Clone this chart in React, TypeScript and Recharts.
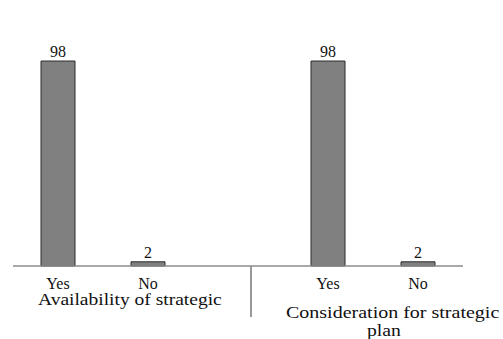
import React from 'react';
import {
  BarChart,
  Bar,
  XAxis,
  YAxis,
  LabelList,
  Customized,
} from 'recharts';

// answer categories along the axis; the empty slot keeps the two groups apart
const answers = ['Yes', 'No', '', 'Yes', 'No'];
const percentages = [98, 2, null, 98, 2];
const groups = ['Availability of strategic', 'Consideration for strategic', 'plan'];
const yDomain = [0, 120];

const data = answers.map((answer, i) => ({ answer, value: percentages[i] }));

const serifStyle = { fontFamily: 'Liberation Serif', fontSize: 16, fill: '#111' };

// category names under the axis
const AnswerTick = ({ x, y, payload }: any) => (
  <text x={x} y={y} dy={9} textAnchor="middle" style={serifStyle}>
    {payload.value}
  </text>
);

// value printed just above each bar
const ValueLabel = ({ x, y, width, value }: any) =>
  value == null ? null : (
    <text x={x + width / 2} y={y - 4} textAnchor="middle" style={serifStyle}>
      {value}
    </text>
  );

// group captions under the category names (stretched a little wider), and the divider
const GroupCaptions = () => (
  <g>
    <line x1={251} y1={266} x2={251} y2={317} stroke="#333" strokeWidth={1} />
    <text transform="translate(38 305) scale(1.22 1)" style={serifStyle}>
      {groups[0]}
    </text>
    <text transform="translate(286 318) scale(1.25 1)" style={serifStyle}>
      {groups[1]}
    </text>
    <text transform="translate(367 336) scale(1.23 1)" style={serifStyle}>
      {groups[2]}
    </text>
  </g>
);

export default function App() {
  return (
    <div style={{ position: 'absolute', left: 0, top: 0, background: '#fff' }}>
      <BarChart
        width={503}
        height={339}
        data={data}
        margin={{ top: 15, right: 40, bottom: 0, left: 13 }}
        barSize={34}
      >
        <XAxis
          dataKey="answer"
          height={73}
          axisLine={{ stroke: '#8c8c8c', strokeWidth: 1.5 }}
          tickLine={false}
          tickMargin={8}
          interval={0}
          tick={<AnswerTick />}
        />
        <YAxis
          domain={yDomain}
          width={0}
          tick={false}
          tickLine={false}
          axisLine={{ stroke: '#8c8c8c', strokeWidth: 1.5 }}
        />
        <Bar
          dataKey="value"
          fill="#808080"
          stroke="#2b2b2b"
          strokeWidth={1}
          isAnimationActive={false}
        >
          <LabelList dataKey="value" content={<ValueLabel />} />
        </Bar>
        <Customized component={GroupCaptions} />
      </BarChart>
    </div>
  );
}
